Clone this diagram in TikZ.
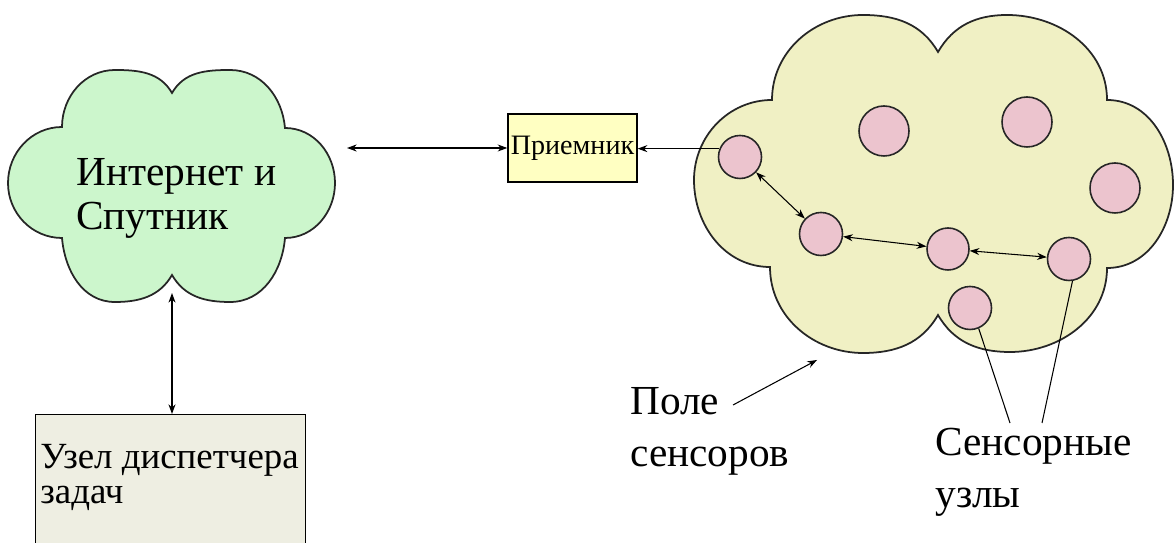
\documentclass[tikz,border=0pt]{standalone}
\usepackage{fontspec}
\setmainfont{Liberation Serif}
\usetikzlibrary{arrows.meta}
\definecolor{netgreen}{RGB}{204,246,204}
\definecolor{fieldyellow}{RGB}{240,240,196}
\definecolor{rxyellow}{RGB}{255,255,194}
\definecolor{dispgray}{RGB}{238,238,226}
\definecolor{nodepink}{RGB}{236,196,206}
\tikzset{cloudline/.style={draw=black!85, line width=1pt},
 sensor/.style={circle, draw=black!85, line width=0.9pt, fill=nodepink, inner sep=0pt},
 bigtext/.style={font=\fontsize{23.5}{29.6}\selectfont, align=left, anchor=base west, inner sep=0pt},
 link/.style={semithick},
 }

\begin{document}
\begin{tikzpicture}[x=0.02cm, y=0.02cm, >={Stealth[length=5.5pt,width=4pt]}]
        \path[use as bounding box, clip] (0,0) rectangle (1175,543);

        % internet cloud
        \draw[cloudline, fill=netgreen] (62,416) to[out=90,in=180] (115,473) to[out=0,in=120] (172,450)
            to[out=60,in=180] (230,473) to[out=0,in=95] (285,415) to[out=0,in=90] (335,360)
            to[out=-90,in=0] (285,305) to[out=-95,in=0] (230,241) to[out=180,in=-60] (172,268)
            to[out=-120,in=0] (115,241) to[out=180,in=-85] (62,305) to[out=180,in=-90] (8,360)
            to[out=90,in=180] (62,416) -- cycle;
        % base anchor sits on the last line
        \node[bigtext, font=\fontsize{23.5}{25.6}\selectfont] (net) at (76,313) {Интернет и\\Спутник};

        % sensor field
        \draw[cloudline, fill=fieldyellow] (772,443) to[out=90,in=180] (863,528) to[out=0,in=120] (938,491)
            to[out=60,in=180] (1007,528) to[out=0,in=90] (1107,443) to[out=0,in=90] (1173,358)
            to[out=-90,in=0] (1107,275) to[out=-90,in=0] (1010,191) to[out=180,in=-60] (938,228)
            to[out=-120,in=0] (863,190) to[out=180,in=-90] (770,276) to[out=180,in=-90] (694,363)
            to[out=90,in=180] (772,443) -- cycle;

        \foreach \name/\x/\y/\d in {s1/740/386/43, s2/884/412/50, s3/1027/421/50, s4/1115/355/50,
                                   s5/821/309/43, s6/948/294/42, s7/1069/284/43, s8/970/235/43} {
            \node[sensor, minimum size=\d*0.02cm] (\name) at (\x,\y) {};
        }
        \foreach \a/\b in {s1/s5, s5/s6, s6/s7} {
            \draw[link, <->] (\a) -- (\b);
        }

        % receiver
        \node[draw, line width=0.8pt, fill=rxyellow, minimum width=2.58cm, minimum height=1.36cm, inner sep=0pt,
              font=\fontsize{16}{18}\selectfont] (rx) at (572.5,395) {Приемник};
        \coordinate (netout) at (347,395);
        \draw[link, <->] (netout) -- (rx.west);
        \draw[link, ->] (s1.158) -- (s1.158 -| rx.east);

        % task manager
        \node[draw, line width=0.8pt, fill=dispgray, anchor=north west, minimum width=5.4cm, minimum height=3cm] (disp) at (35,129) {};
        \node[bigtext, font=\fontsize{21}{20}\selectfont] (disptext) at (40,39) {Узел диспетчера\\задач};
        \coordinate (netdown) at (172,250);
        \draw[link, <->] (netdown) -- (netdown |- disp.north);

        % labels
        \node[bigtext] (field) at (630,76) {Поле\\сенсоров};
        \coordinate (fieldfrom) at (733,138);
        \coordinate (fieldto) at (817,183);
        \draw[link, ->] (fieldfrom) -- (fieldto);

        \node[bigtext, font=\fontsize{23.5}{30}\selectfont] (sens) at (935,35) {Сенсорные\\узлы};
        \coordinate (pin8) at (1010,120);
        \coordinate (pin7) at (1042,120);
        \draw[link] (s8.-67) -- (pin8);
        \draw[link] (s7.-81) -- (pin7);
    \end{tikzpicture}
\end{document}
